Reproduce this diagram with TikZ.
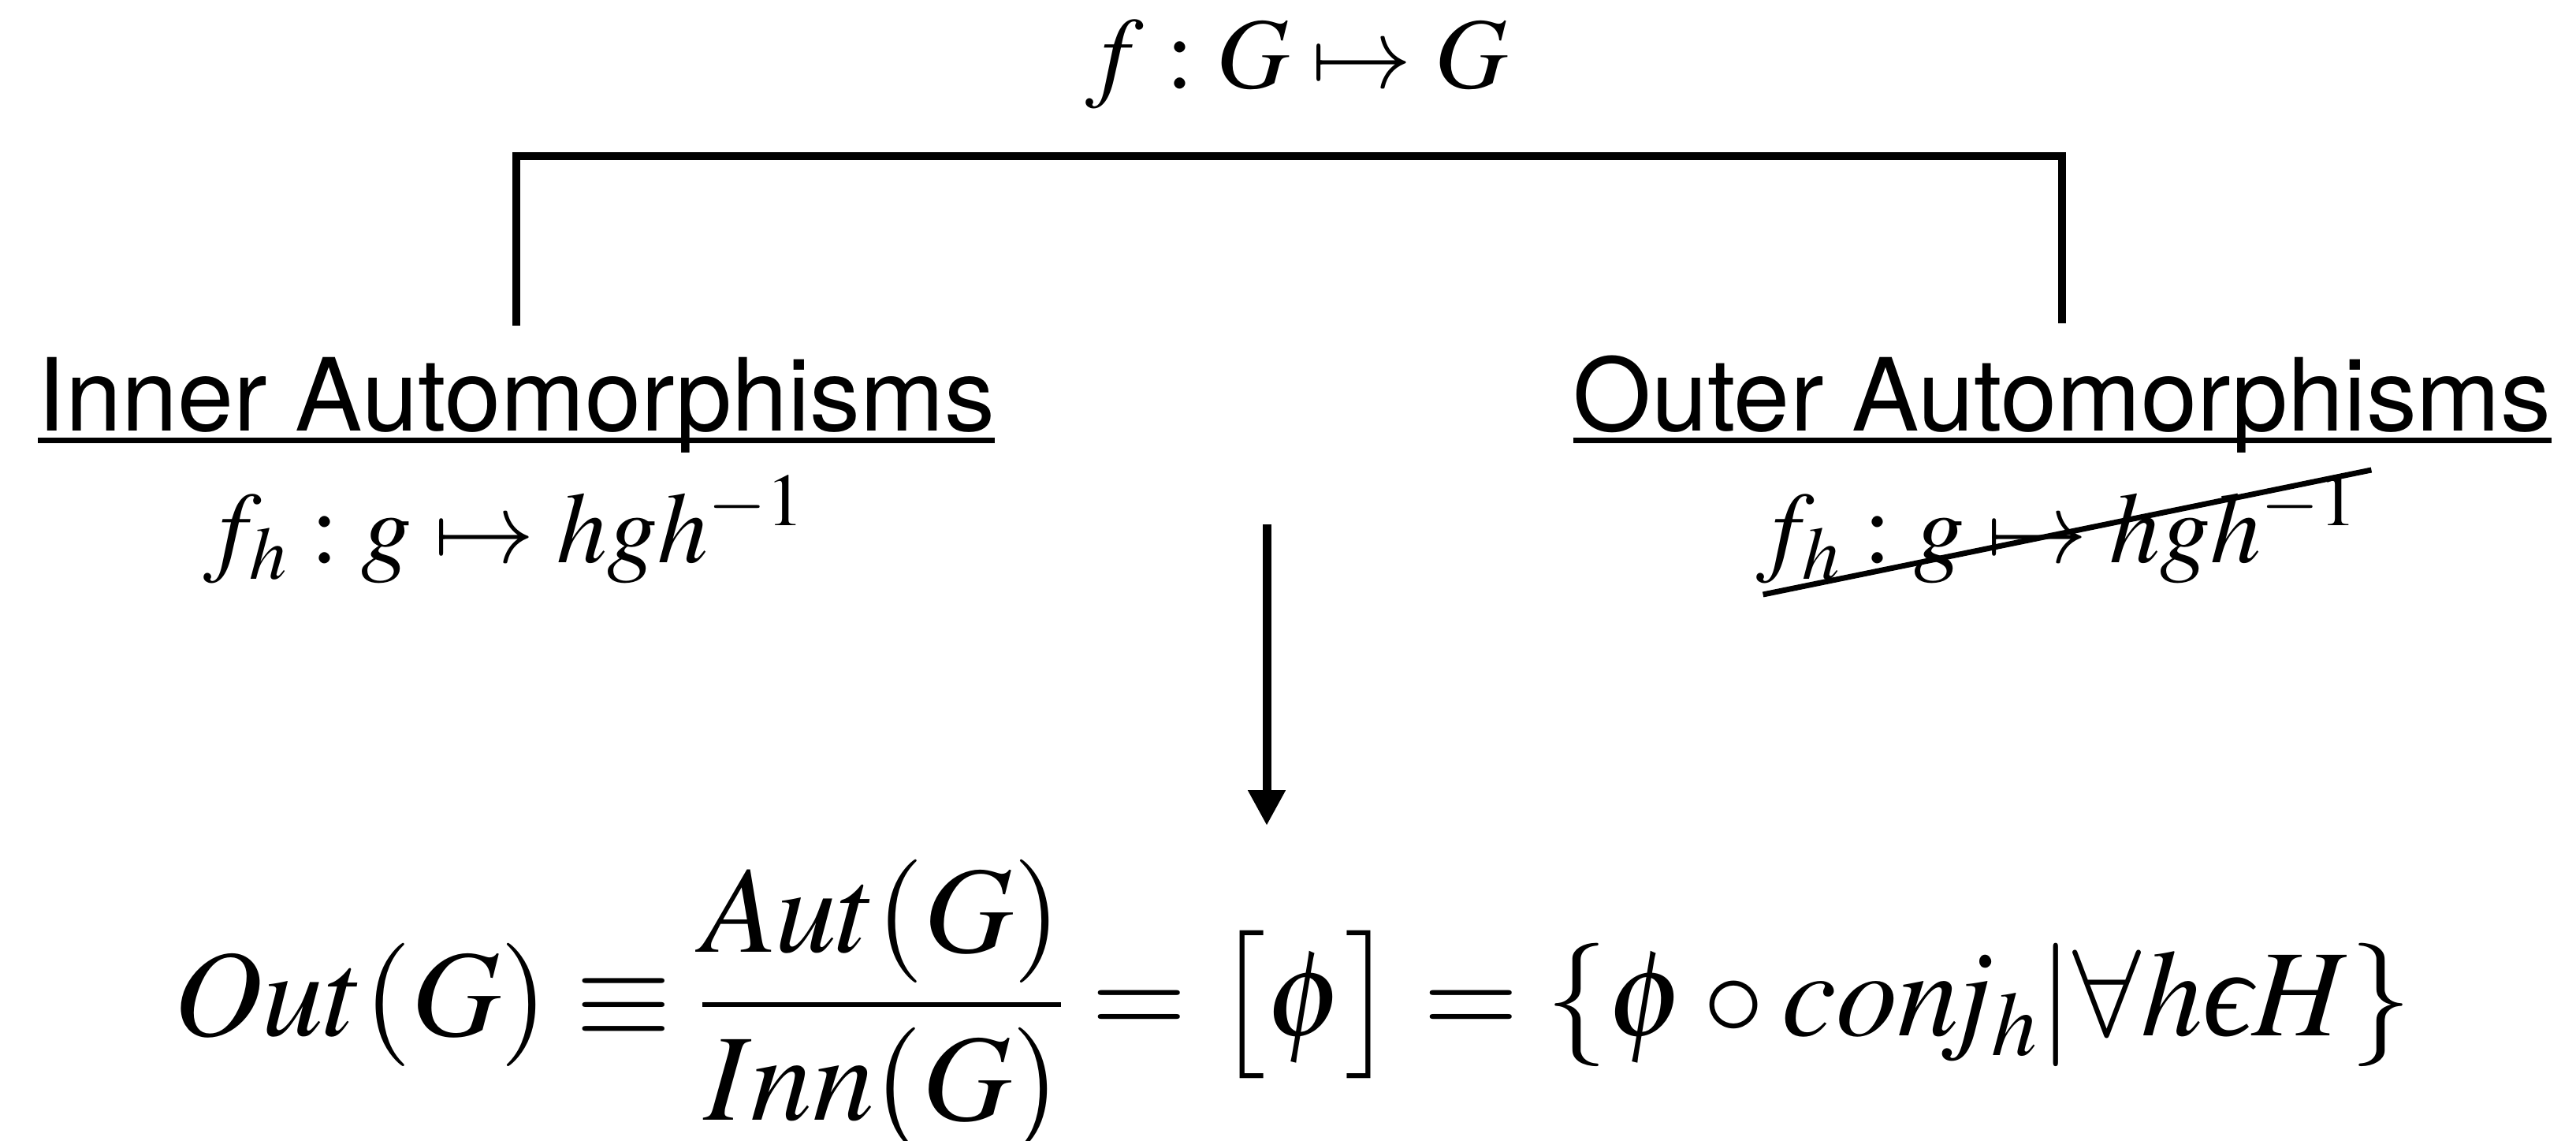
\documentclass[tikz,border=0pt]{standalone}
\usepackage{amsmath}
\usepackage{mathptmx}
\usepackage[no-math]{fontspec}
\setsansfont{TeX Gyre Heros}
\newfontfamily\greekserif{Liberation Serif}
\usetikzlibrary{arrows.meta, calc}
% lunate epsilon taken from a text font
\newcommand{\lunateps}{\mbox{\greekserif\itshape ϵ}}

\begin{document}
\begin{tikzpicture}[
    every node/.style={inner sep=0pt, outer sep=0pt},
    headlab/.style={font=\fontsize{36.4}{40}\selectfont\sffamily, anchor=base},
    mathlab/.style={font=\fontsize{36.4}{40}\selectfont, anchor=base},
    biglab/.style={font=\fontsize{44.5}{53}\selectfont, anchor=base},
    bracket/.style={line width=0.1cm},
    uline/.style={line width=0.07cm},
    strike/.style={line width=0.07cm},
    arrow/.style={-{Triangle[length=0.45cm, width=0.45cm]}, line width=0.11cm},
]
\useasboundingbox (0,0) rectangle (32.68,-14.47);

% ===== TOP: the map and its split =====
\node[mathlab] (fmap) at (16.45,-1.12) {$f : G \mapsto G$};

\node[headlab] (inner) at (6.55,-5.47) {Inner Automorphisms};
\node[headlab] (outer) at (26.16,-5.47) {Outer Automorphisms};

% Bracket joining both kinds
\coordinate (brace-top) at (16.4,-1.98);
\draw[bracket] ([yshift=0.41cm]inner.north) |- (brace-top)
    -| ([yshift=0.41cm]outer.north);

% Underlines
\draw[uline] ([yshift=-0.12cm]inner.base west) -- ([yshift=-0.12cm]inner.base east);
\draw[uline] ([yshift=-0.12cm]outer.base west) -- ([yshift=-0.12cm]outer.base east);

% ===== Conjugation maps =====
\node[mathlab] (innerf) at (6.40,-7.13) {$f_h : g \mapsto hgh^{-1}$};
\node[mathlab] (outerf) at (26.10,-7.13) {$f_h : g \mapsto hgh^{-1}$};

% Crossed out on the outer side
\draw[strike] ($(outerf.base west)+(0.08,-0.41)$) -- ($(outerf.base east)+(0.17,1.17)$);

% ===== ARROW down to the quotient =====
\coordinate (arr-top) at (16.07,-6.65);
\coordinate (arr-tip) at (16.07,-10.47);
\draw[arrow] (arr-top) -- (arr-tip);

% Quotient formula
\node[biglab] (outdef) at (16.40,-13.13)
    {$Out(G) \equiv \dfrac{Aut(G)}{Inn(G)} = \bigl[\phi\bigr] = \{\phi\circ con\mkern-3mu j_h | \forall h\lunateps H\}$};

\end{tikzpicture}
\end{document}
